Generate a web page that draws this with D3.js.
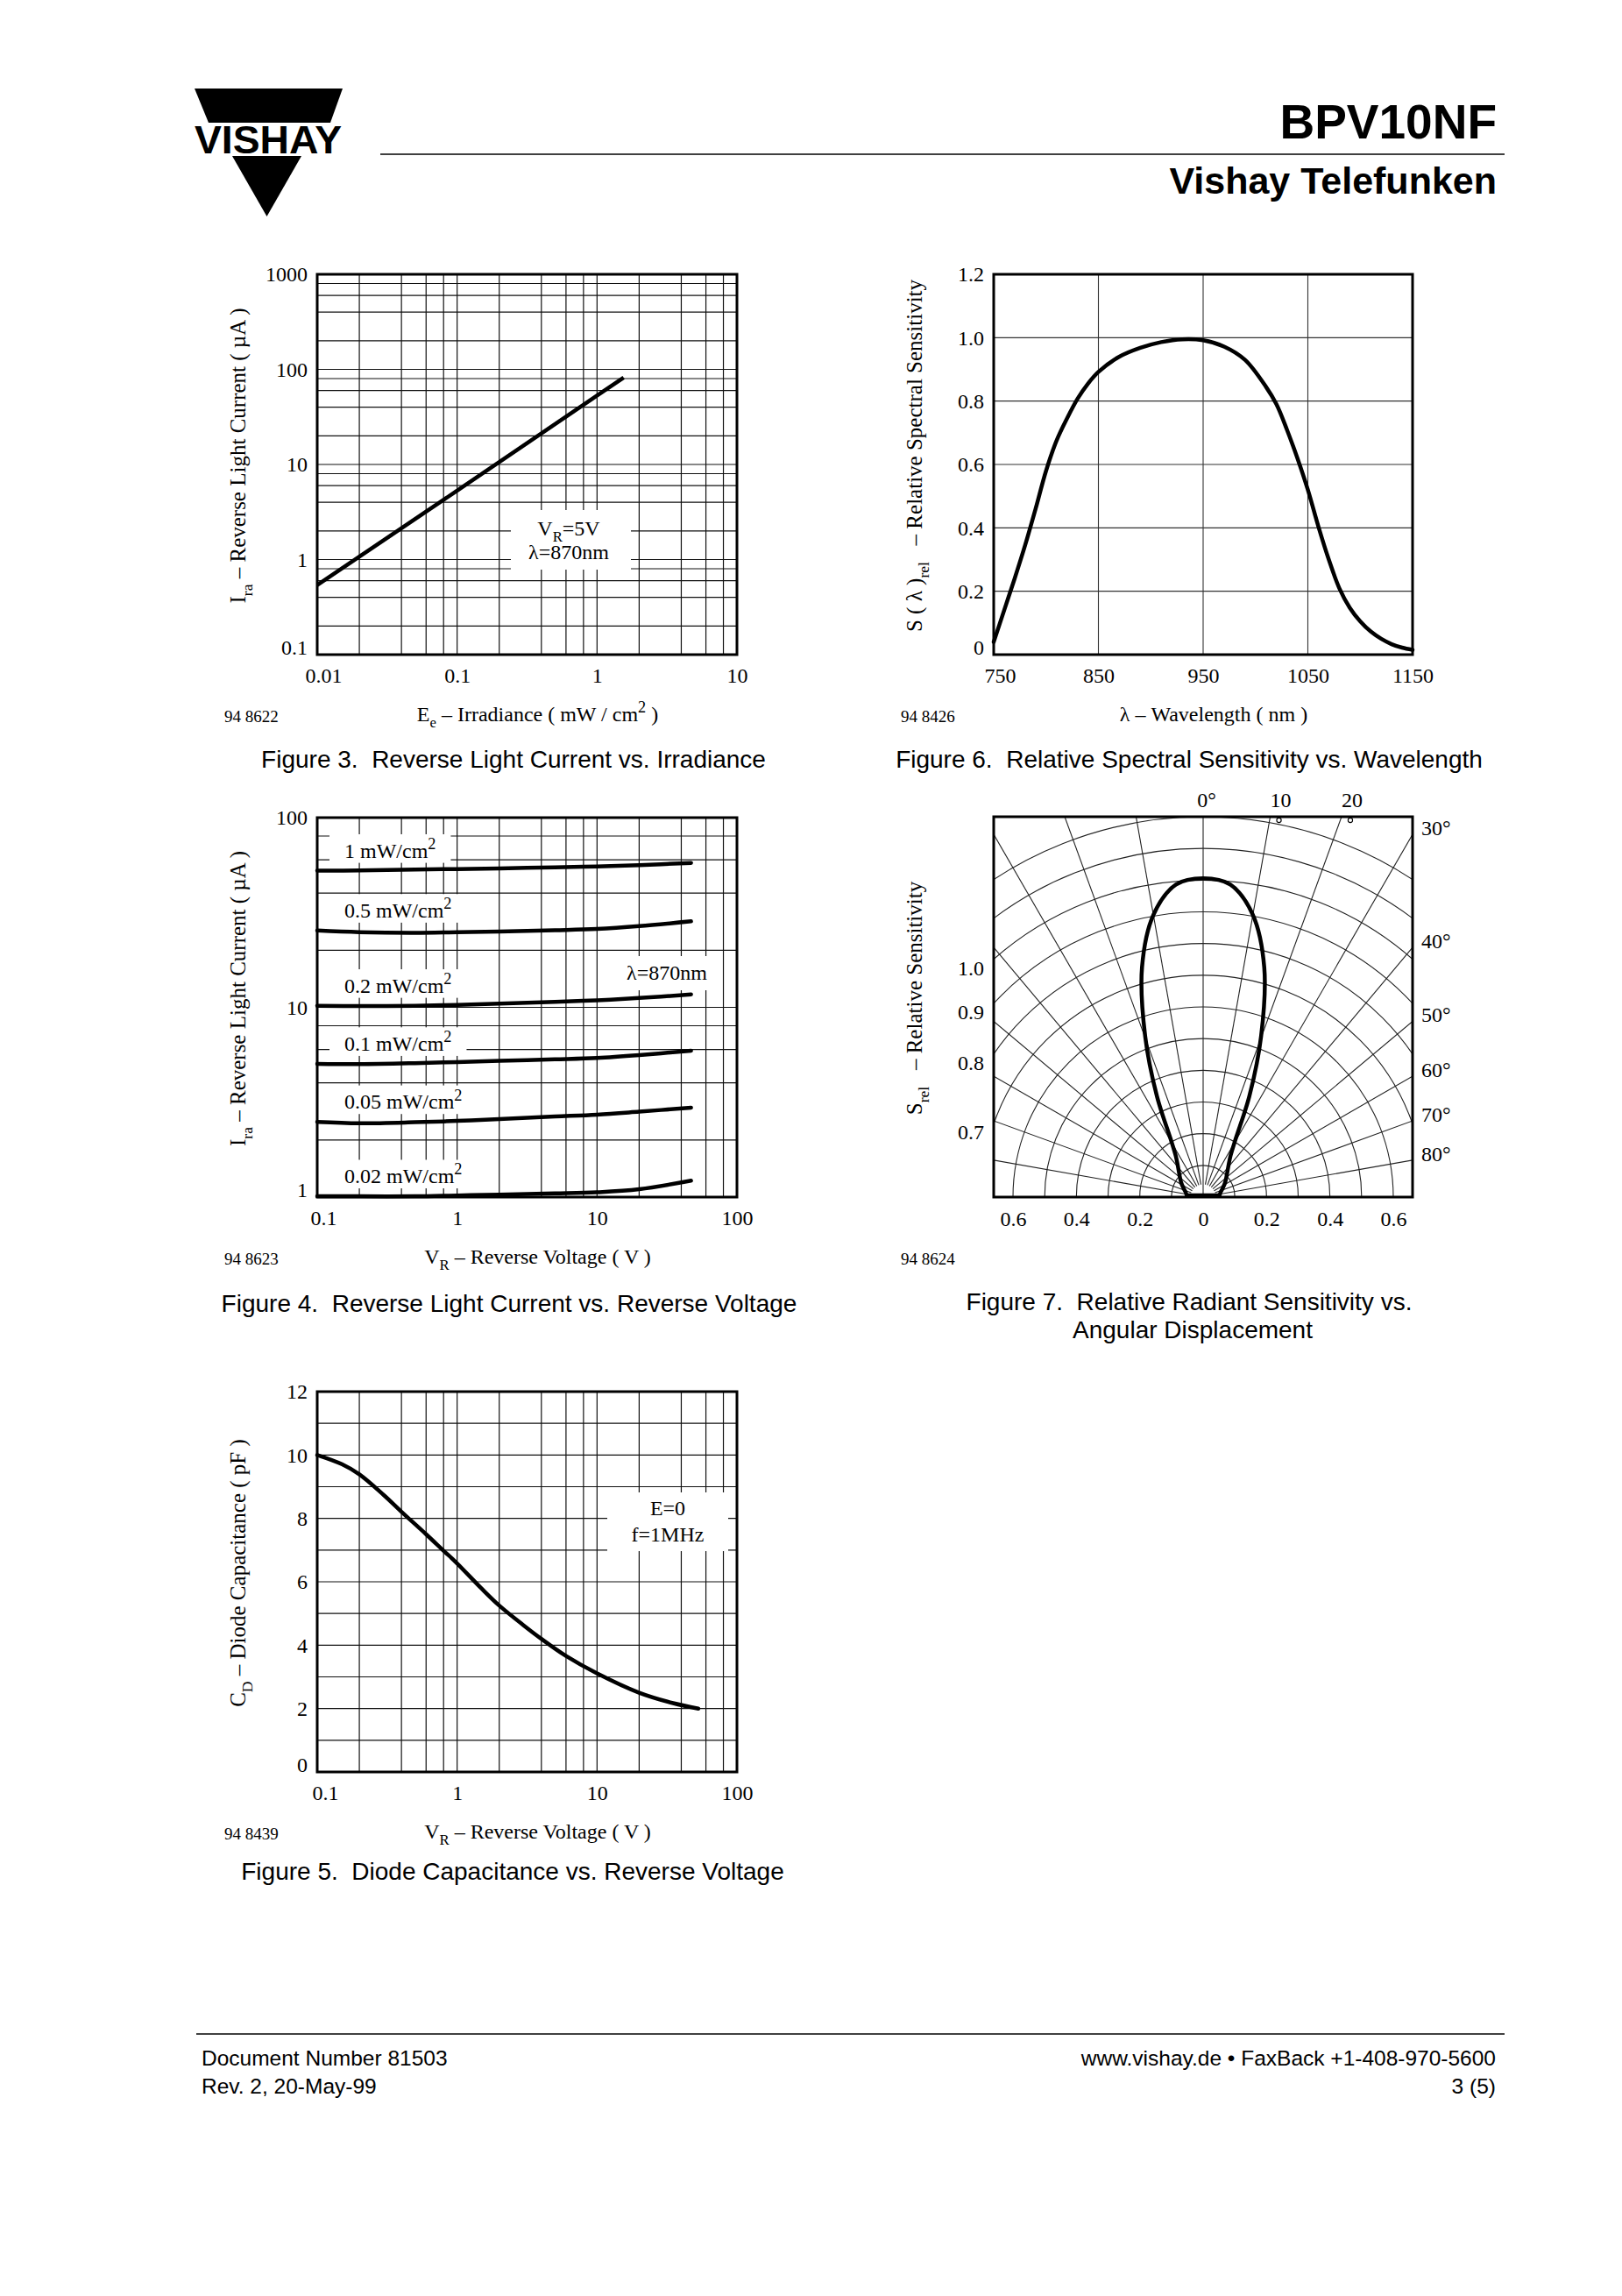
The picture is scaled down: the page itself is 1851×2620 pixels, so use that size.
<!DOCTYPE html>
<html><head><meta charset="utf-8">
<script src="https://cdn.jsdelivr.net/npm/d3@7"></script>
<style>
body{margin:0;background:#fff;}
svg{display:block;}
text{white-space:pre;}
</style></head><body>
<script>
// ================= DATA =================
// Figure 3 – Reverse light current vs irradiance
const fig3Irradiance = [0.01, 0.1, 1, 1.55];
const fig3Current    = [0.54, 5.3, 53, 82];
const fig3XTickValues = [0.01, 0.1, 1, 10];
const fig3XTickLabels = ["0.01", "0.1", "1", "10"];
const fig3YTickValues = [0.1, 1, 10, 100, 1000];
const fig3YTickLabels = ["0.1", "1", "10", "100", "1000"];

// Figure 4 – Reverse light current vs reverse voltage
const fig4Voltage = [0.1, 0.2, 0.5, 1, 2, 5, 10, 20, 47];
const fig4Irr1   = [52.5, 52.7, 53.2, 53.6, 54.0, 54.7, 55.3, 56.2, 57.7];
const fig4Irr05  = [25.4, 24.9, 24.7, 24.9, 25.1, 25.5, 25.9, 26.8, 28.4];
const fig4Irr02  = [10.2, 10.15, 10.2, 10.3, 10.45, 10.7, 10.9, 11.2, 11.7];
const fig4Irr01  = [5.04, 5.02, 5.08, 5.15, 5.22, 5.32, 5.41, 5.6, 5.91];
const fig4Irr005 = [2.49, 2.45, 2.48, 2.52, 2.58, 2.66, 2.72, 2.82, 2.96];
const fig4Irr002 = [1.01, 1.01, 1.01, 1.02, 1.03, 1.045, 1.06, 1.1, 1.22];
const fig4SeriesLabels = ["1 mW/cm", "0.5 mW/cm", "0.2 mW/cm", "0.1 mW/cm", "0.05 mW/cm", "0.02 mW/cm"];
const fig4XTickValues = [0.1, 1, 10, 100];
const fig4XTickLabels = ["0.1", "1", "10", "100"];
const fig4YTickValues = [1, 10, 100];
const fig4YTickLabels = ["1", "10", "100"];

// Figure 5 – Diode capacitance vs reverse voltage
const fig5Voltage = [0.1, 0.15, 0.2, 0.3, 0.4, 0.6, 0.8, 1, 1.5, 2, 3, 4, 6, 10, 20, 35, 53];
const fig5Capacitance = [10.0, 9.71, 9.39, 8.73, 8.21, 7.5, 6.98, 6.58, 5.78, 5.25, 4.62, 4.2, 3.66, 3.11, 2.5, 2.17, 2.0];
const fig5XTickValues = [0.1, 1, 10, 100];
const fig5XTickLabels = ["0.1", "1", "10", "100"];
const fig5YTickValues = [0, 2, 4, 6, 8, 10, 12];
const fig5YTickLabels = ["0", "2", "4", "6", "8", "10", "12"];

// Figure 6 – Relative spectral sensitivity
const fig6Wavelength = [750,760,770,780,790,800,810,820,830,840,850,870,890,910,930,950,970,990,1010,1020,1030,1040,1050,1060,1070,1080,1090,1100,1110,1120,1130,1140,1150];
const fig6Sensitivity = [0.04,0.14,0.24,0.345,0.46,0.58,0.675,0.745,0.807,0.855,0.892,0.94,0.968,0.986,0.995,0.992,0.972,0.93,0.845,0.79,0.71,0.62,0.52,0.405,0.30,0.21,0.148,0.105,0.073,0.05,0.033,0.022,0.015];
const fig6XTickValues = [750, 850, 950, 1050, 1150];
const fig6XTickLabels = ["750", "850", "950", "1050", "1150"];
const fig6YTickValues = [0, 0.2, 0.4, 0.6, 0.8, 1.0, 1.2];
const fig6YTickLabels = ["0", "0.2", "0.4", "0.6", "0.8", "1.0", "1.2"];

// Figure 7 – Relative radiant sensitivity vs angular displacement
const fig7Angle = [0, 5, 10, 15, 20, 25, 30, 35, 40, 50, 60, 70, 80, 90];
const fig7Srel  = [1.0, 0.984, 0.90, 0.745, 0.535, 0.345, 0.205, 0.15, 0.125, 0.097, 0.08, 0.066, 0.056, 0.052];
const fig7RadiusTicks = [-0.6, -0.4, -0.2, 0, 0.2, 0.4, 0.6];
const fig7RadiusLabels = ["0.6", "0.4", "0.2", "0", "0.2", "0.4", "0.6"];
const fig7LeftTickValues = [1.0, 0.9, 0.8, 0.7];
const fig7LeftTickLabels = ["1.0", "0.9", "0.8", "0.7"];
const fig7RightAngles = [30, 40, 50, 60, 70, 80];
const fig7RightLabels = ["30°", "40°", "50°", "60°", "70°", "80°"];
const fig7TopAngles = [0, 10, 20];
const fig7TopLabels = ["0°", "10", "20"];

// ================= DRAWING =================
const SERIF = '"Liberation Serif","Times New Roman",serif';
const SANS = '"Liberation Sans",Arial,Helvetica,sans-serif';
const svg = d3.select("body").append("svg").attr("width", 1851).attr("height", 2620);
svg.append("rect").attr("width", 1851).attr("height", 2620).attr("fill", "#fff");

function rich(t, parts, fs) {
  let shift = 0;
  parts.forEach(([s, m]) => {
    const sp = t.append("tspan").text(s);
    const target = m === "sub" ? fs * 0.3 : m === "sup" ? -fs * 0.4 : 0;
    if (target - shift !== 0) sp.attr("dy", target - shift);
    shift = target;
    if (m === "sub") sp.attr("font-size", fs * 0.7);
    if (m === "sup") sp.attr("font-size", fs * 0.76);
  });
  return t;
}

function logGrid(min, max) {
  const out = [];
  for (let e = Math.round(Math.log10(min)); e < Math.round(Math.log10(max)); e++) {
    for (const m of [1, 2, 4, 6, 8]) out.push(m * Math.pow(10, e));
  }
  out.push(max);
  return out;
}

function drawGrid(g, x, y, xs, ys, color, w) {
  const [yb, yt] = y.range(), [xl, xr] = x.range();
  g.append("g").selectAll("line").data(xs).join("line")
    .attr("x1", d => x(d)).attr("x2", d => x(d)).attr("y1", yb).attr("y2", yt)
    .attr("stroke", color).attr("stroke-width", w);
  g.append("g").selectAll("line").data(ys).join("line")
    .attr("y1", d => y(d)).attr("y2", d => y(d)).attr("x1", xl).attr("x2", xr)
    .attr("stroke", color).attr("stroke-width", w);
}
function drawBorder(g, box) {
  g.append("rect").attr("x", box.L).attr("y", box.T).attr("width", box.R - box.L).attr("height", box.B - box.T)
    .attr("fill", "none").attr("stroke", "#000").attr("stroke-width", 3);
}
function xAxis(g, x, box, values, labels, shiftFirst = 7) {
  const ax = g.append("g").attr("transform", `translate(0,${box.B})`)
    .call(d3.axisBottom(x).tickValues(values).tickFormat((d, i) => labels[i]).tickSize(0));
  ax.select(".domain").remove();
  ax.attr("font-family", SERIF).attr("font-size", 24);
  ax.selectAll("text").attr("y", 32).attr("dy", null).attr("fill", "#000");
  ax.selectAll(".tick").filter((d, i) => i === 0).select("text").attr("x", shiftFirst);
  return ax;
}
function yAxis(g, y, box, values, labels) {
  const ax = g.append("g").attr("transform", `translate(${box.L},0)`)
    .call(d3.axisLeft(y).tickValues(values).tickFormat((d, i) => labels[i]).tickSize(0));
  ax.select(".domain").remove();
  ax.attr("font-family", SERIF).attr("font-size", 24);
  ax.selectAll("text").attr("x", -11).attr("dy", "0.33em").attr("fill", "#000");
  ax.selectAll(".tick").filter((d, i) => i === 0).select("text").attr("y", -8);
  return ax;
}
function yTitle(box, parts) {
  const t = svg.append("text").attr("font-family", SERIF).attr("font-size", 25).attr("text-anchor", "middle")
    .attr("transform", `translate(${box.L - 82},${(box.T + box.B) / 2 - 10}) rotate(-90)`);
  rich(t, parts, 25);
}
function xTitle(box, parts) {
  const t = svg.append("text").attr("font-family", SERIF).attr("font-size", 24).attr("text-anchor", "middle")
    .attr("x", (box.L + box.R) / 2 + 12).attr("y", box.B + 76);
  rich(t, parts, 24);
}
function figId(box, s) {
  svg.append("text").attr("font-family", SERIF).attr("font-size", 19)
    .attr("x", box.L - 106).attr("y", box.B + 77).text(s);
}
function caption(x, y, s) {
  svg.append("text").attr("font-family", SANS).attr("font-size", 28).attr("text-anchor", "middle")
    .attr("x", x).attr("y", y).text(s);
}
function whiteBox(g, x0, y0, x1, y1) {
  g.append("rect").attr("x", x0).attr("y", y0).attr("width", x1 - x0).attr("height", y1 - y0).attr("fill", "#fff");
}
const smooth = d3.curveCatmullRom.alpha(0.5);

// ---------- Header ----------
const header = svg.append("g");
header.append("polygon").attr("points", "222,101 391,101 377,140 238,140").attr("fill", "#000");
header.append("polygon").attr("points", "265,178 344,178 304.5,247").attr("fill", "#000");
header.append("text").attr("font-family", SANS).attr("font-weight", "bold").attr("font-size", 45)
  .attr("x", 222).attr("y", 175).attr("textLength", 168).attr("lengthAdjust", "spacingAndGlyphs").text("VISHAY");
header.append("line").attr("x1", 434).attr("x2", 1717).attr("y1", 176).attr("y2", 176).attr("stroke", "#000").attr("stroke-width", 1.5);
header.append("text").attr("font-family", SANS).attr("font-weight", "bold").attr("font-size", 55)
  .attr("text-anchor", "end").attr("x", 1708).attr("y", 158).text("BPV10NF");
header.append("text").attr("font-family", SANS).attr("font-weight", "bold").attr("font-size", 43)
  .attr("text-anchor", "end").attr("x", 1708).attr("y", 221).text("Vishay Telefunken");

// ---------- Figure 3 ----------
(function () {
  const box = { L: 362, R: 841, T: 313, B: 747 };
  const g = svg.append("g");
  const x = d3.scaleLog().domain([0.01, 10]).range([box.L, box.R]);
  const y = d3.scaleLog().domain([0.1, 1000]).range([box.B, box.T]);
  drawGrid(g, x, y, logGrid(0.01, 10), logGrid(0.1, 1000), "#111", 1.2);
  whiteBox(g, 583, 582, 720, 650);
  const t1 = g.append("text").attr("font-family", SERIF).attr("font-size", 24).attr("text-anchor", "middle").attr("x", 649).attr("y", 611);
  rich(t1, [["V", null], ["R", "sub"], ["=5V", null]], 24);
  g.append("text").attr("font-family", SERIF).attr("font-size", 24).attr("text-anchor", "middle").attr("x", 649).attr("y", 638).text("λ=870nm");
  const pts = fig3Irradiance.map((e, i) => [e, fig3Current[i]]);
  g.append("path").attr("d", d3.line().x(d => x(d[0])).y(d => y(d[1]))(pts))
    .attr("fill", "none").attr("stroke", "#000").attr("stroke-width", 4.5);
  drawBorder(g, box);
  xAxis(g, x, box, fig3XTickValues, fig3XTickLabels);
  yAxis(g, y, box, fig3YTickValues, fig3YTickLabels);
  yTitle(box, [["I", null], ["ra", "sub"], [" – Reverse Light Current ( µA )", null]]);
  xTitle(box, [["E", null], ["e", "sub"], [" – Irradiance ( mW / cm", null], ["2", "sup"], [" )", null]]);
  figId(box, "94 8622");
  caption(586, 876, "Figure 3.  Reverse Light Current vs. Irradiance");
})();

// ---------- Figure 6 ----------
(function () {
  const box = { L: 1134, R: 1612, T: 313, B: 747 };
  const g = svg.append("g");
  const x = d3.scaleLinear().domain([750, 1150]).range([box.L, box.R]);
  const y = d3.scaleLinear().domain([0, 1.2]).range([box.B, box.T]);
  drawGrid(g, x, y, [850, 950, 1050], [0.2, 0.4, 0.6, 0.8, 1.0], "#333", 1.1);
  const pts = fig6Wavelength.map((w, i) => [w, fig6Sensitivity[i]]);
  g.append("path").attr("d", d3.line().x(d => x(d[0])).y(d => y(d[1])).curve(smooth)(pts))
    .attr("fill", "none").attr("stroke", "#000").attr("stroke-width", 4.5).attr("stroke-linecap", "round");
  drawBorder(g, box);
  xAxis(g, x, box, fig6XTickValues, fig6XTickLabels);
  yAxis(g, y, box, fig6YTickValues, fig6YTickLabels);
  yTitle(box, [["S ( λ )", null], ["rel", "sub"], ["   – Relative Spectral Sensitivity", null]]);
  xTitle(box, [["λ – Wavelength ( nm )", null]]);
  figId(box, "94 8426");
  caption(1357, 876, "Figure 6.  Relative Spectral Sensitivity vs. Wavelength");
})();

// ---------- Figure 4 ----------
(function () {
  const box = { L: 362, R: 841, T: 933, B: 1366 };
  const g = svg.append("g");
  const x = d3.scaleLog().domain([0.1, 100]).range([box.L, box.R]);
  const y = d3.scaleLog().domain([1, 100]).range([box.B, box.T]);
  drawGrid(g, x, y, logGrid(0.1, 100), logGrid(1, 100), "#111", 1.2);
  const series = [fig4Irr1, fig4Irr05, fig4Irr02, fig4Irr01, fig4Irr005, fig4Irr002];
  series.forEach((s, i) => {
    const t = g.append("text").attr("font-family", SERIF).attr("font-size", 24)
      .attr("x", 393).attr("y", y(s[0]) - 15);
    rich(t, [[fig4SeriesLabels[i], null], ["2", "sup"]], 24);
    const bb = t.node().getBBox();
    g.insert("rect", "text").attr("x", bb.x - 17).attr("y", bb.y - 1).attr("width", bb.width + 34).attr("height", bb.height + 2).attr("fill", "#fff");
  });
  whiteBox(g, 706, 1091, 816, 1130);
  g.append("text").attr("font-family", SERIF).attr("font-size", 24).attr("text-anchor", "middle").attr("x", 761).attr("y", 1118).text("λ=870nm");
  const line = d3.line().x(d => x(d[0])).y(d => y(d[1])).curve(smooth);
  series.forEach(s => {
    const pts = fig4Voltage.map((v, i) => [v, s[i]]);
    g.append("path").attr("d", line(pts)).attr("fill", "none").attr("stroke", "#000").attr("stroke-width", 4.5).attr("stroke-linecap", "round");
  });
  drawBorder(g, box);
  xAxis(g, x, box, fig4XTickValues, fig4XTickLabels);
  yAxis(g, y, box, fig4YTickValues, fig4YTickLabels);
  yTitle(box, [["I", null], ["ra", "sub"], [" – Reverse Light Current ( µA )", null]]);
  xTitle(box, [["V", null], ["R", "sub"], [" – Reverse Voltage ( V )", null]]);
  figId(box, "94 8623");
  caption(581, 1497, "Figure 4.  Reverse Light Current vs. Reverse Voltage");
})();

// ---------- Figure 7 ----------
(function () {
  const box = { L: 1134, R: 1612, T: 932, B: 1366 };
  const g = svg.append("g");
  const cx = (box.L + box.R) / 2, H = box.B - box.T, hw = (box.R - box.L) / 2;
  const r = d3.scaleLinear().domain([0, 1.2]).range([0, H]);
  const xP = d3.scaleLinear().domain([-1.2, 1.2]).range([cx - H, cx + H]);
  svg.append("defs").append("clipPath").attr("id", "clip7").append("rect")
    .attr("x", box.L).attr("y", box.T).attr("width", box.R - box.L).attr("height", H);
  const gc = g.append("g").attr("clip-path", "url(#clip7)");
  const rings = d3.range(1, 13).map(k => k / 10);
  gc.selectAll("circle").data(rings).join("circle")
    .attr("cx", cx).attr("cy", box.B).attr("r", d => r(d))
    .attr("fill", "none").attr("stroke", "#222").attr("stroke-width", 1.1);
  const spokes = d3.range(-80, 81, 10);
  gc.selectAll("line.sp").data(spokes).join("line").attr("class", "sp")
    .attr("x1", d => cx + r(d === 0 ? 0 : 0.04) * Math.sin(d * Math.PI / 180))
    .attr("y1", d => box.B - r(d === 0 ? 0 : 0.04) * Math.cos(d * Math.PI / 180))
    .attr("x2", d => cx + r(2.5) * Math.sin(d * Math.PI / 180))
    .attr("y2", d => box.B - r(2.5) * Math.cos(d * Math.PI / 180))
    .attr("stroke", "#222").attr("stroke-width", 1.1);
  // lobe (mirrored about 0°) closed by a flat base just above the baseline
  const lobe = [];
  for (let i = fig7Angle.length - 1; i >= 0; i--) lobe.push([-fig7Angle[i], fig7Srel[i]]);
  for (let i = 1; i < fig7Angle.length; i++) lobe.push([fig7Angle[i], fig7Srel[i]]);
  const radial = d3.lineRadial().angle(d => d[0] * Math.PI / 180).radius(d => r(d[1])).curve(d3.curveCatmullRom);
  const lobeG = g.append("g").attr("transform", `translate(${cx},${box.B - 2})`);
  lobeG.append("path").attr("d", radial(lobe))
    .attr("fill", "none").attr("stroke", "#000").attr("stroke-width", 4.5).attr("stroke-linejoin", "round");
  const baseR = r(fig7Srel[fig7Srel.length - 1]);
  lobeG.append("line").attr("x1", -baseR).attr("x2", baseR).attr("y1", 0).attr("y2", 0)
    .attr("stroke", "#000").attr("stroke-width", 4.5).attr("stroke-linecap", "round");
  drawBorder(g, box);
  // degree marks under top border
  g.selectAll("circle.deg").data([10, 20]).join("circle").attr("class", "deg")
    .attr("cx", d => cx + H * Math.tan(d * Math.PI / 180) + 10).attr("cy", box.T + 4).attr("r", 2.6)
    .attr("fill", "#fff").attr("stroke", "#000").attr("stroke-width", 1.1);
  // bottom radius labels
  const ax = g.append("g").attr("transform", `translate(0,${box.B})`)
    .call(d3.axisBottom(xP).tickValues(fig7RadiusTicks).tickFormat((d, i) => fig7RadiusLabels[i]).tickSize(0));
  ax.select(".domain").remove();
  ax.attr("font-family", SERIF).attr("font-size", 24);
  ax.selectAll("text").attr("y", 33).attr("dy", null).attr("fill", "#000");
  // left labels at ring/edge intersections
  g.selectAll("text.lt").data(fig7LeftTickValues).join("text").attr("class", "lt")
    .attr("font-family", SERIF).attr("font-size", 24).attr("text-anchor", "end")
    .attr("x", box.L - 11)
    .attr("y", d => box.B - Math.sqrt(r(d) * r(d) - hw * hw) + 18)
    .text((d, i) => fig7LeftTickLabels[i]);
  // right angle labels
  g.selectAll("text.rt").data(fig7RightAngles).join("text").attr("class", "rt")
    .attr("font-family", SERIF).attr("font-size", 24)
    .attr("x", box.R + 10)
    .attr("y", d => box.B - hw / Math.tan(d * Math.PI / 180) + 1)
    .text((d, i) => fig7RightLabels[i]);
  // top angle labels
  g.selectAll("text.tp").data(fig7TopAngles).join("text").attr("class", "tp")
    .attr("font-family", SERIF).attr("font-size", 24).attr("text-anchor", "middle")
    .attr("x", d => d === 0 ? cx + 4 : cx + H * Math.tan(d * Math.PI / 180) + 12)
    .attr("y", box.T - 11)
    .text((d, i) => fig7TopLabels[i]);
  yTitle(box, [["S", null], ["rel", "sub"], ["   – Relative Sensitivity", null]]);
  figId(box, "94 8624");
  caption(1357, 1495, "Figure 7.  Relative Radiant Sensitivity vs.");
  caption(1361, 1527, "Angular Displacement");
})();

// ---------- Figure 5 ----------
(function () {
  const box = { L: 362, R: 841, T: 1588, B: 2022 };
  const g = svg.append("g");
  const x = d3.scaleLog().domain([0.1, 100]).range([box.L, box.R]);
  const y = d3.scaleLinear().domain([0, 12]).range([box.B, box.T]);
  drawGrid(g, x, y, logGrid(0.1, 100), d3.range(0, 13), "#111", 1.2);
  whiteBox(g, 693, 1703, 831, 1770);
  g.append("text").attr("font-family", SERIF).attr("font-size", 24).attr("text-anchor", "middle").attr("x", 762).attr("y", 1729).text("E=0");
  g.append("text").attr("font-family", SERIF).attr("font-size", 24).attr("text-anchor", "middle").attr("x", 762).attr("y", 1759).text("f=1MHz");
  const pts = fig5Voltage.map((v, i) => [v, fig5Capacitance[i]]);
  g.append("path").attr("d", d3.line().x(d => x(d[0])).y(d => y(d[1])).curve(smooth)(pts))
    .attr("fill", "none").attr("stroke", "#000").attr("stroke-width", 4.5).attr("stroke-linecap", "round");
  drawBorder(g, box);
  xAxis(g, x, box, fig5XTickValues, fig5XTickLabels, 9);
  yAxis(g, y, box, fig5YTickValues, fig5YTickLabels);
  yTitle(box, [["C", null], ["D", "sub"], [" – Diode Capacitance ( pF )", null]]);
  xTitle(box, [["V", null], ["R", "sub"], [" – Reverse Voltage ( V )", null]]);
  figId(box, "94 8439");
  caption(585, 2145, "Figure 5.  Diode Capacitance vs. Reverse Voltage");
})();

// ---------- Footer ----------
const footer = svg.append("g").attr("font-family", SANS).attr("font-size", 24.5);
footer.append("line").attr("x1", 224).attr("x2", 1717).attr("y1", 2321).attr("y2", 2321).attr("stroke", "#000").attr("stroke-width", 1.5);
footer.append("text").attr("x", 230).attr("y", 2357).text("Document Number 81503");
footer.append("text").attr("x", 230).attr("y", 2389).text("Rev. 2, 20-May-99");
footer.append("text").attr("x", 1707).attr("y", 2357).attr("text-anchor", "end").text("www.vishay.de • FaxBack +1-408-970-5600");
footer.append("text").attr("x", 1707).attr("y", 2389).attr("text-anchor", "end").text("3 (5)");
</script>
</body></html>
